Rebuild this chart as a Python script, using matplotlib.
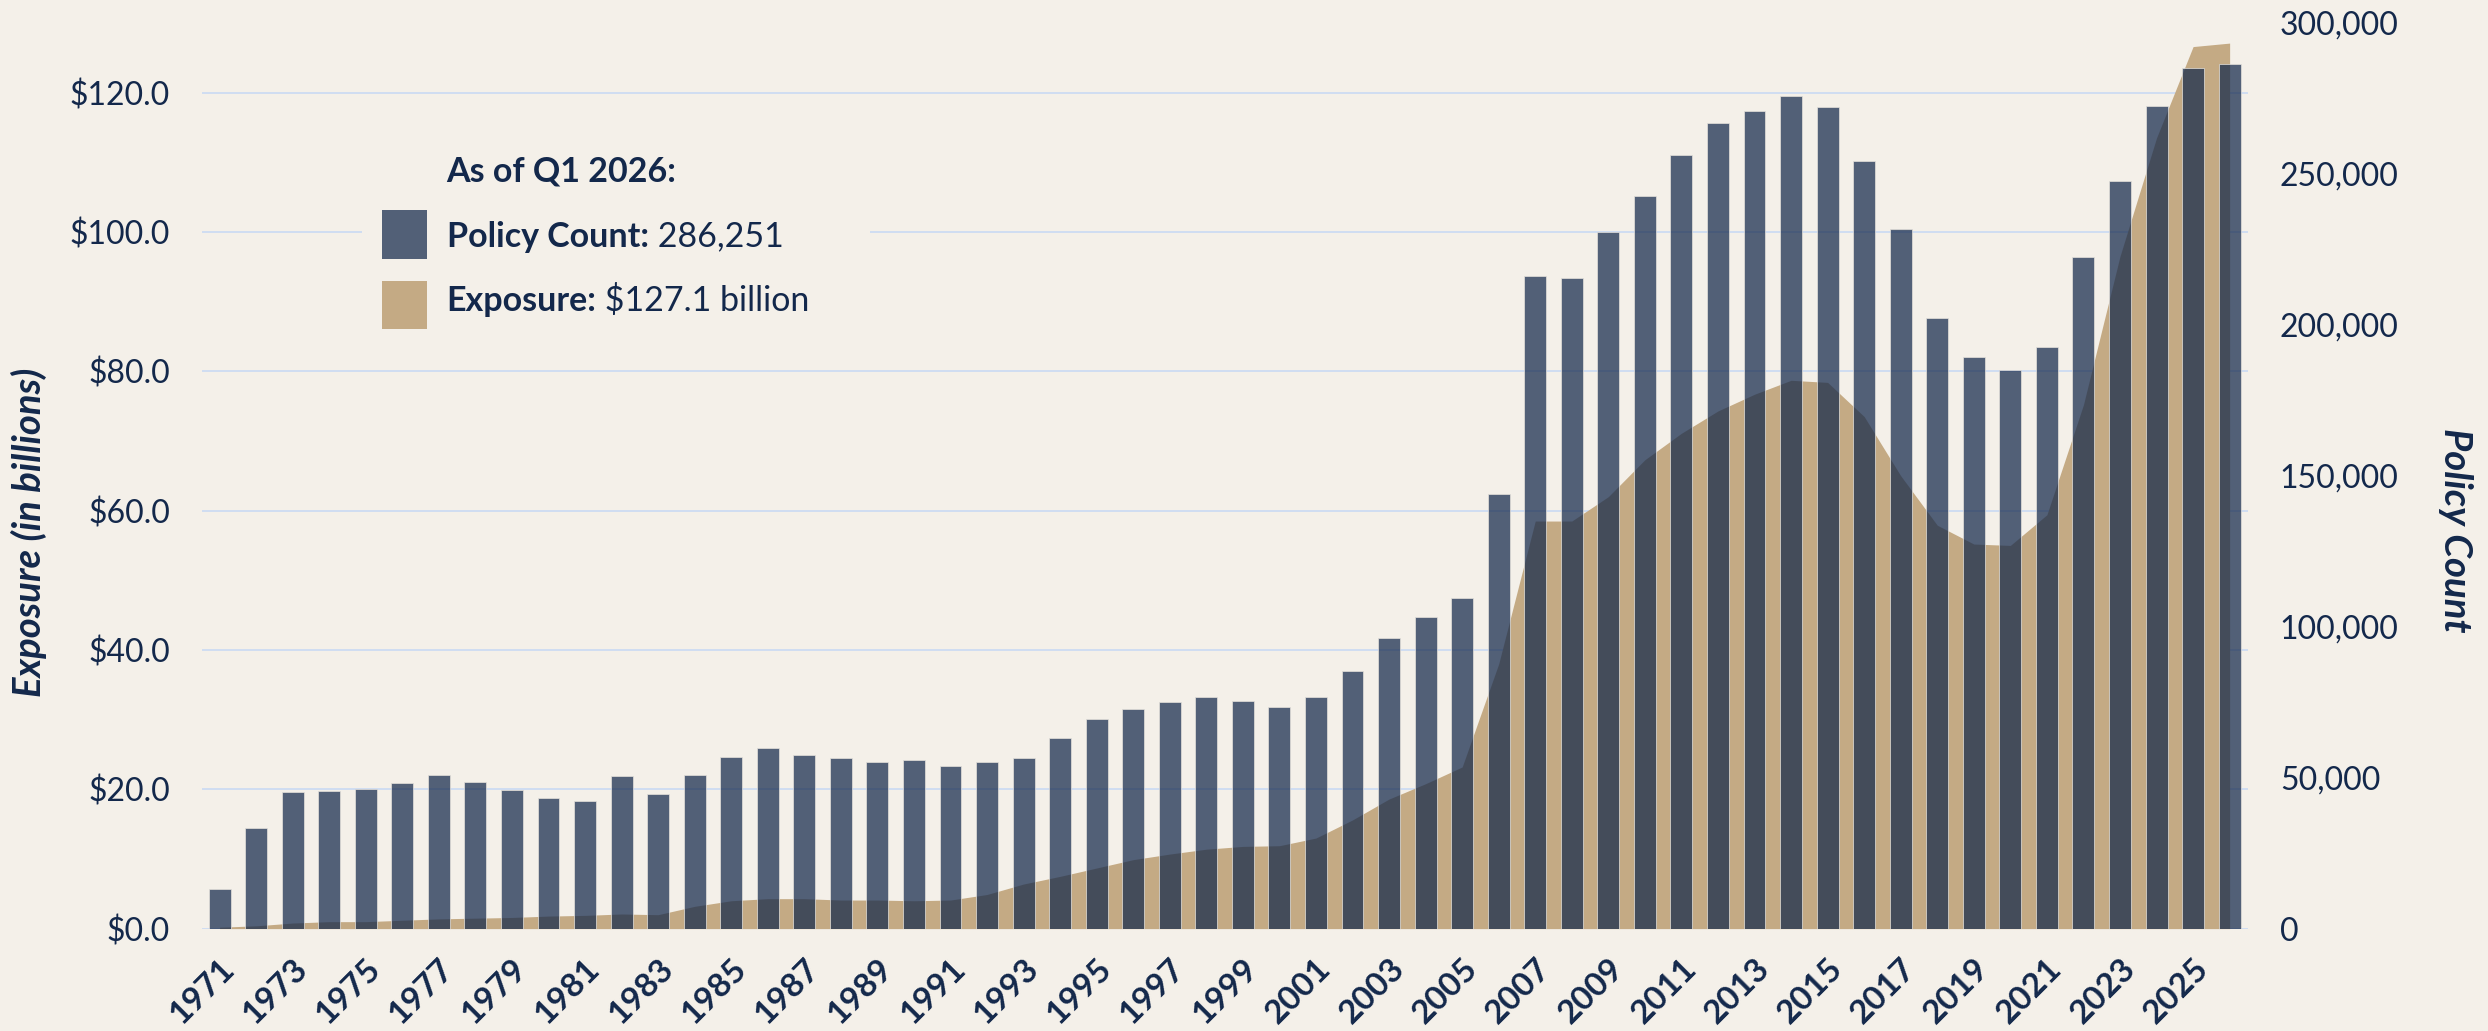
import matplotlib.pyplot as plt
from matplotlib.patches import Rectangle
from matplotlib.transforms import ScaledTranslation

plt.rcParams['font.family'] = ['Lato', 'DejaVu Sans']

years = list(range(1971, 2027))
policy_count = [13000, 33200, 45300, 45600, 46100, 48300, 51000, 48400, 45800, 43200,
                42200, 50600, 44500, 50900, 56800, 59700, 57500, 56400, 55100, 55700,
                53700, 55200, 56500, 63000, 69400, 72600, 75100, 76800, 75500, 73400,
                76600, 85300, 96100, 103200, 109400, 143800, 216000, 215500, 230700, 242700,
                256100, 266900, 270800, 275700, 272300, 254400, 231600, 202100, 189200, 184900,
                192800, 222400, 247500, 272600, 284900, 286251]
# exposure in billions of dollars
exposure = [0.2, 0.4, 0.8, 1.0, 1.0, 1.2, 1.4, 1.5, 1.6, 1.8,
            1.9, 2.1, 2.0, 3.2, 4.0, 4.3, 4.3, 4.1, 4.1, 4.0,
            4.1, 4.9, 6.4, 7.5, 8.7, 9.9, 10.7, 11.4, 11.8, 11.9,
            13.0, 15.6, 18.6, 20.8, 23.2, 38.0, 58.5, 58.5, 62.0, 67.3,
            71.1, 74.3, 76.7, 78.7, 78.4, 73.5, 65.0, 57.9, 55.2, 55.0,
            59.4, 75.2, 96.5, 113.5, 126.6, 127.1]
left_ticks = [0, 20, 40, 60, 80, 100, 120]
right_ticks = [0, 50000, 100000, 150000, 200000, 250000, 300000]

bg = '#f4f0e9'
navy = '#13284b'
tan = '#c4aa84'
grid_c = '#cddcf2'

fig = plt.figure(figsize=(24.88, 10.31), dpi=100, facecolor=bg)
ax = fig.add_axes([0.0812, 0.0993, 0.8223, 0.8785])
ax.set_facecolor(bg)
ax2 = ax.twinx()

ax.fill_between(years, exposure, color=tan, linewidth=0, zorder=2)
ax.set_ylim(0, 130)
ax.set_yticks(left_ticks)
ax.set_yticklabels([f'${v:.1f}' for v in left_ticks])
ax.grid(axis='y', color=grid_c, linewidth=1.3)
ax.set_axisbelow(True)

ax2.bar(years, policy_count, width=0.6, color=navy, alpha=0.72,
        edgecolor='#e6e2dc', linewidth=0.7)
ax2.set_ylim(0, 300000)
ax2.set_yticks(right_ticks)
ax2.set_yticklabels([f'{v:,}' for v in right_ticks])

ax.set_xlim(1970.52, 2026.5)
ax.set_xticks(years[::2])
ax.set_xticklabels([str(y) for y in years[::2]], rotation=45, ha='right', va='top',
                   rotation_mode='anchor', fontweight='bold', fontsize=24, color=navy)
for lbl in ax.get_xticklabels():
    lbl.set_transform(lbl.get_transform() + ScaledTranslation(0.07, 0, fig.dpi_scale_trans))

for a in (ax, ax2):
    for s in a.spines.values():
        s.set_visible(False)
    a.tick_params(length=0)
ax.tick_params(axis='y', pad=23, labelsize=23, labelcolor=navy)
ax2.tick_params(axis='y', pad=23, labelsize=23, labelcolor=navy)
ax.tick_params(axis='x', pad=18)

fig.text(28.5 / 2488, 1 - 532 / 1031, 'Exposure (in billions)', rotation=90,
         ha='center', va='center', fontsize=27.5, fontweight='bold', style='italic', color=navy)
fig.text(2456 / 2488, 1 - 530 / 1031, 'Policy Count', rotation=-90,
         ha='center', va='center', fontsize=27.5, fontweight='bold', style='italic', color=navy)

# legend block
fig.patches.append(Rectangle((0.1455, 0.6605), 0.2042, 0.2231, transform=fig.transFigure,
                             facecolor=bg, edgecolor='none', zorder=1))
fig.patches.append(Rectangle((0.1535, 0.7488), 0.0181, 0.0475, transform=fig.transFigure,
                             facecolor=navy, alpha=0.72, edgecolor='none', zorder=2))
fig.patches.append(Rectangle((0.1535, 0.6809), 0.0181, 0.0465, transform=fig.transFigure,
                             facecolor=tan, edgecolor='none', zorder=2))

tx = 446.6 / 2488
fig.text(tx, 0.8235, 'As of Q1 2026:', fontsize=24.5, fontweight='bold', color=navy, va='baseline')
renderer = fig.canvas.get_renderer()
for y, bold, rest in [(0.7607, 'Policy Count:', ' 286,251'),
                      (0.6986, 'Exposure:', ' $127.1 billion')]:
    t = fig.text(tx, y, bold, fontsize=24.5, fontweight='bold', color=navy, va='baseline')
    bb = t.get_window_extent(renderer)
    fig.text(bb.x1 / fig.bbox.width, y, rest, fontsize=24.5, color=navy, va='baseline')

fig.savefig('out.png', dpi=100, facecolor=bg)
